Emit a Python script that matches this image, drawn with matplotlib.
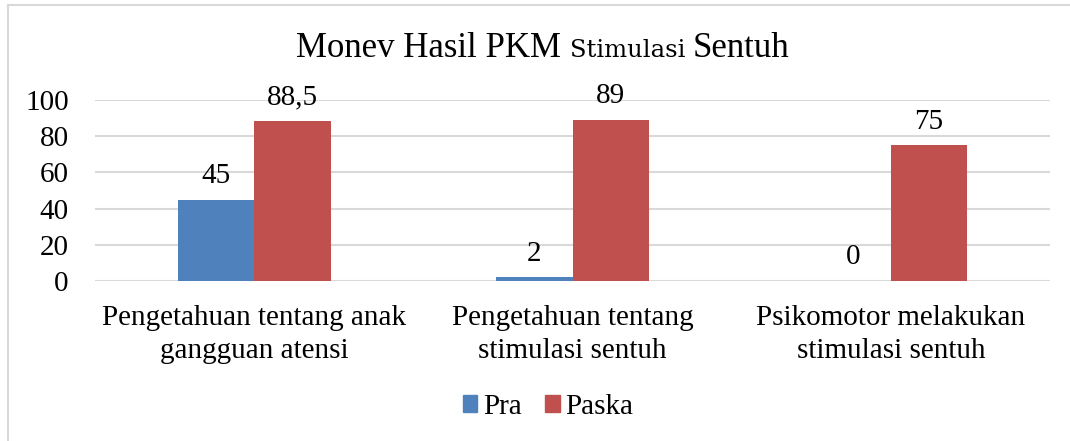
import numpy as np
import matplotlib.pyplot as plt
from matplotlib.lines import Line2D
from matplotlib.patches import Patch

# data
categories = ['Pengetahuan tentang anak\ngangguan atensi',
              'Pengetahuan tentang\nstimulasi sentuh',
              'Psikomotor melakukan\nstimulasi sentuh']
pra = [45, 2, 0]
paska = [88.5, 89, 75]
pra_labels = ['45', '2', '0']
paska_labels = ['88,5', '89', '75']
yticks = [0, 20, 40, 60, 80, 100]

plt.rcParams['font.family'] = ['Liberation Serif', 'DejaVu Serif']

blue = '#4F81BD'
red = '#C0504D'
grid = '#D9D9D9'
fs = 21

fig = plt.figure(figsize=(10.7, 4.41), dpi=100)
ax = fig.add_axes([95 / 1070, 1 - 281 / 441, 955 / 1070, 181 / 441])

x = np.arange(len(categories))
w = 0.24
b1 = ax.bar(x - w / 2, pra, w, color=blue, label='Pra')
b2 = ax.bar(x + w / 2, paska, w, color=red, label='Paska')

for rect, lab in zip(list(b1) + list(b2), pra_labels + paska_labels):
    ax.annotate(lab, (rect.get_x() + rect.get_width() / 2, rect.get_height()),
                xytext=(0, 12), textcoords='offset points',
                ha='center', va='baseline', fontsize=fs)

ax.set_xlim(-0.5, 2.5)
ax.set_ylim(0, 100)
ax.set_yticks(yticks)
ax.set_xticks(x)
ax.set_xticklabels(categories, fontsize=fs, linespacing=1.38)
ax.tick_params(axis='y', length=0, pad=19, labelsize=fs)
ax.tick_params(axis='x', length=0, pad=17)
for s in ax.spines.values():
    s.set_visible(False)
ax.yaxis.grid(True, color=grid, linewidth=1.5)
ax.set_axisbelow(True)

# title with a smaller middle word in a wider face
pieces = [('Monev Hasil PKM ', 25, 'Liberation Serif'),
          ('Stimulasi ', 17.5, 'DejaVu Serif'),
          ('Sentuh', 25, 'Liberation Serif')]
renderer = fig.canvas.get_renderer()
texts = []
for s, size, fam in pieces:
    t = fig.text(0, 1 - 57 / 441, s, fontsize=size, family=fam, va='baseline', ha='left')
    texts.append(t)
widths = [t.get_window_extent(renderer).width for t in texts]
xpos = 543 - sum(widths) / 2
for t, wd in zip(texts, widths):
    t.set_x(xpos / 1070)
    xpos += wd

handles = [Patch(color=blue), Patch(color=red)]
fig.legend(handles, ['Pra', 'Paska'], loc='center', bbox_to_anchor=(548 / 1070, 1 - 407 / 441),
           ncol=2, frameon=False, fontsize=fs, handlelength=0.5, handleheight=0.5,
           handletextpad=0.2, columnspacing=0.8)

# chart border
fig.add_artist(Line2D([8 / 1070, 1], [1 - 5 / 441, 1 - 5 / 441], color=grid, linewidth=1.5))
fig.add_artist(Line2D([8 / 1070, 8 / 1070], [0, 1 - 5 / 441], color=grid, linewidth=1.5))

fig.savefig('out.png', dpi=100)
